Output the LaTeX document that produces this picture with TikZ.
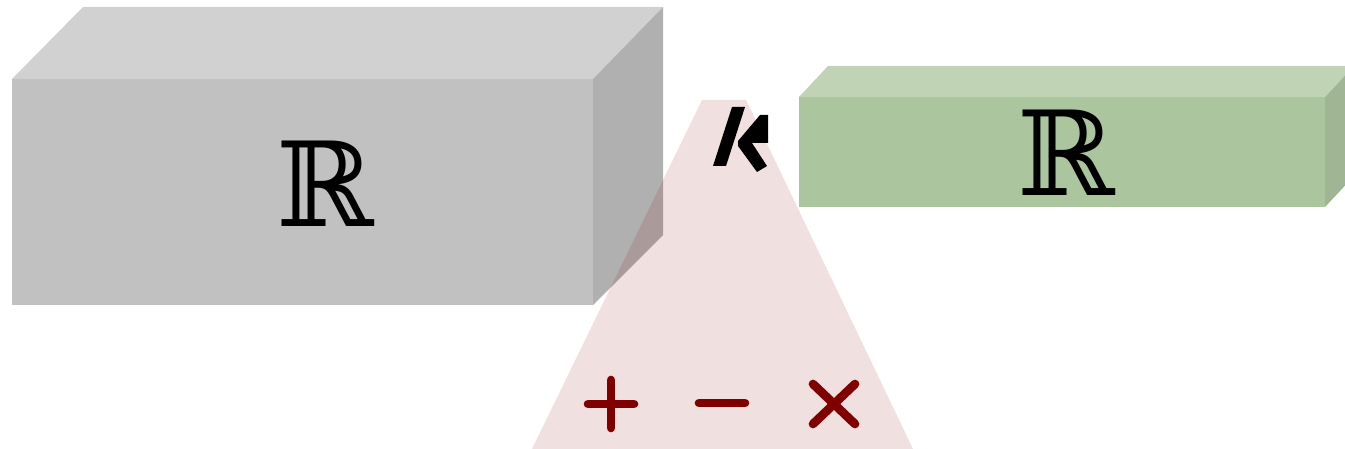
\documentclass[tikz,border=0pt]{standalone}
\usepackage{fontspec}
\usetikzlibrary{calc}
\newfontfamily\bbfont{DejaVu Serif}
\definecolor{gfront}{HTML}{C1C1C1}
\definecolor{gtop}{HTML}{D1D1D1}
\definecolor{gside}{HTML}{B0B0B0}
\definecolor{vfront}{HTML}{ABC69F}
\definecolor{vtop}{HTML}{C0D4B5}
\definecolor{vside}{HTML}{A0B594}
\definecolor{opred}{HTML}{800000}
\tikzset{
  bbtext/.style={font=\bbfont\fontsize{88}{88}\selectfont, inner sep=0pt},
  opsym/.style={draw=opred, line width=6.5pt, line cap=round},
}
\begin{document}
\begin{tikzpicture}[x=0.75pt,y=-0.75pt]
\useasboundingbox (0,0) rectangle (1345,449);
% gray box
\fill[gfront] (12,79) rectangle (593,305);
\fill[gtop] (12,79) -- (83,7) -- (663,7) -- (593,79) -- cycle;
\fill[gside] (593,79) -- (663,7) -- (663,235) -- (593,305) -- cycle;
\node[bbtext] (rl) at (325,184) {ℝ};
% pink trapezoid
\fill[opred, opacity=0.12] (702,100) -- (746,100) -- (913,449) -- (532,449) -- cycle;
% green box
\fill[vfront] (799,97) rectangle (1325,207);
\fill[vtop] (799,97) -- (828,66) -- (1354,66) -- (1325,97) -- cycle;
\fill[vside] (1325,97) -- (1354,66) -- (1354,176) -- (1325,207) -- cycle;
\node[bbtext] (rr) at (1066,153) {ℝ};
% operators
\coordinate (pc) at (611,404);
\coordinate (mc) at (722,403);
\coordinate (xc) at (834,404);
\draw[opsym] ($(pc)+(-23,0)$) -- ($(pc)+(23,0)$);
\draw[opsym] ($(pc)+(0,-24)$) -- ($(pc)+(0,24)$);
\draw[opsym] ($(mc)+(-23,0)$) -- ($(mc)+(23,0)$);
\draw[opsym] ($(xc)+(-21,-20)$) -- ($(xc)+(21,20)$);
\draw[opsym] ($(xc)+(-21,20)$) -- ($(xc)+(21,-20)$);
% black glyph
\fill[black] (732,107) -- (745,107) -- (726,166) -- (713,166) -- cycle;
\fill[black] (738,141) -- (760,115) -- (768,115) -- (768,143) -- (752,143) -- (767,166) -- (757,172) -- (738,146) -- cycle;
\end{tikzpicture}
\end{document}
